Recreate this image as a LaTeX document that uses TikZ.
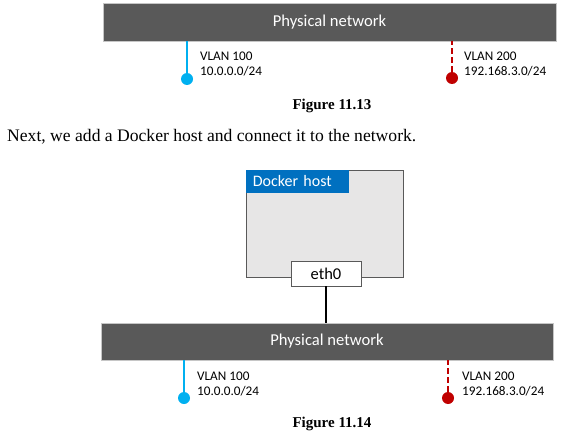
\documentclass[tikz,border=0pt]{standalone}
\usepackage{fontspec}
\setmainfont{Liberation Serif}
\newfontfamily\diagfont{Carlito}
\usetikzlibrary{shapes,arrows}
\usetikzlibrary{positioning,calc}

\definecolor{netGray}{HTML}{595959}
\definecolor{hostGray}{HTML}{E7E6E6}
\definecolor{hostBlue}{HTML}{0070C0}
\definecolor{vlanBlue}{HTML}{00B0F0}
\definecolor{vlanRed}{HTML}{C00000}

\begin{document}
\begin{tikzpicture}[x=1pt, y=-1pt, align=center, >=latex']

%local definitions
\tikzstyle{PhysNet} = [draw=gray!45, fill=netGray, rectangle, text=white, font=\diagfont\fontsize{16.6}{19}\selectfont, minimum height=38pt, minimum width=453pt, inner sep=0pt]
\tikzstyle{VlanDot} = [circle, minimum size=12pt, inner sep=0pt]
\tikzstyle{VlanLabel} = [anchor=west, align=left, inner sep=0pt, font=\diagfont\fontsize{13.2}{15.5}\selectfont]
\tikzstyle{HostBox} = [draw=netGray, fill=hostGray, rectangle, line width=0.9pt, minimum width=157pt, minimum height=107pt]
\tikzstyle{HostTitle} = [fill=hostBlue, text=white, rectangle, anchor=north west, text width=89pt, align=left, inner xsep=7pt, minimum height=23pt, font=\diagfont\fontsize{16}{19}\selectfont]
\tikzstyle{NicBox} = [draw=netGray, fill=white, rectangle, line width=0.9pt, minimum width=70pt, minimum height=25pt, inner sep=0pt, font=\diagfont\fontsize{16.5}{20}\selectfont]
\tikzstyle{Caption} = [anchor=base, inner sep=0pt, font=\bfseries\fontsize{15}{18}\selectfont]

\useasboundingbox (0,0) rectangle (562,433);

%figure 11.13
	\node [PhysNet] (netTop) at (329.5,22) {Physical network};
	\node [VlanDot, fill=vlanBlue] (dotTopA) at (187,79) {};
	\node [VlanDot, fill=vlanRed] (dotTopB) at (452,78) {};
	\node [VlanLabel] (labTopA) at (200,64) {VLAN 100\\10.0.0.0/24};
	\node [VlanLabel] (labTopB) at (464,64) {VLAN 200\\192.168.3.0/24};
	\node [Caption] (capTop) at (332,110) {Figure 11.13};

%text between the figures
	\node [anchor=base west, inner sep=0pt, font=\fontsize{17.6}{21}\selectfont] (nextText) at (7,142) {Next, we add a Docker host and connect it to the network.};

%figure 11.14
	\node [HostBox] (dockerHost) at (324.5,223.5) {};
	\node [HostTitle] (dockerTitle) at (dockerHost.north west) {Docker host};
	\node [NicBox] (eth0) at (326,273.5) {eth0};
	\node [PhysNet, minimum width=452pt, minimum height=37pt] (netBottom) at (327,341.5) {Physical network};
	\node [VlanDot, fill=vlanBlue] (dotBotA) at (184,398) {};
	\node [VlanDot, fill=vlanRed] (dotBotB) at (448,398) {};
	\node [VlanLabel] (labBotA) at (197,384) {VLAN 100\\10.0.0.0/24};
	\node [VlanLabel] (labBotB) at (462,384) {VLAN 200\\192.168.3.0/24};
	\node [Caption] (capBottom) at (332,427) {Figure 11.14};

%connections
	\draw [vlanBlue, line width=2.5pt] (dotTopA) -- (dotTopA |- netTop.south);
	\draw [vlanRed, line width=2.5pt, dash pattern=on 6pt off 3pt] (dotTopB) -- (dotTopB |- netTop.south);
	\draw [black, line width=2.5pt] (eth0.south) -- (eth0.south |- netBottom.north);
	\draw [vlanBlue, line width=2.5pt] (dotBotA) -- (dotBotA |- netBottom.south);
	\draw [vlanRed, line width=2.5pt, dash pattern=on 6pt off 3pt] (dotBotB) -- (dotBotB |- netBottom.south);

\end{tikzpicture}
\end{document}
